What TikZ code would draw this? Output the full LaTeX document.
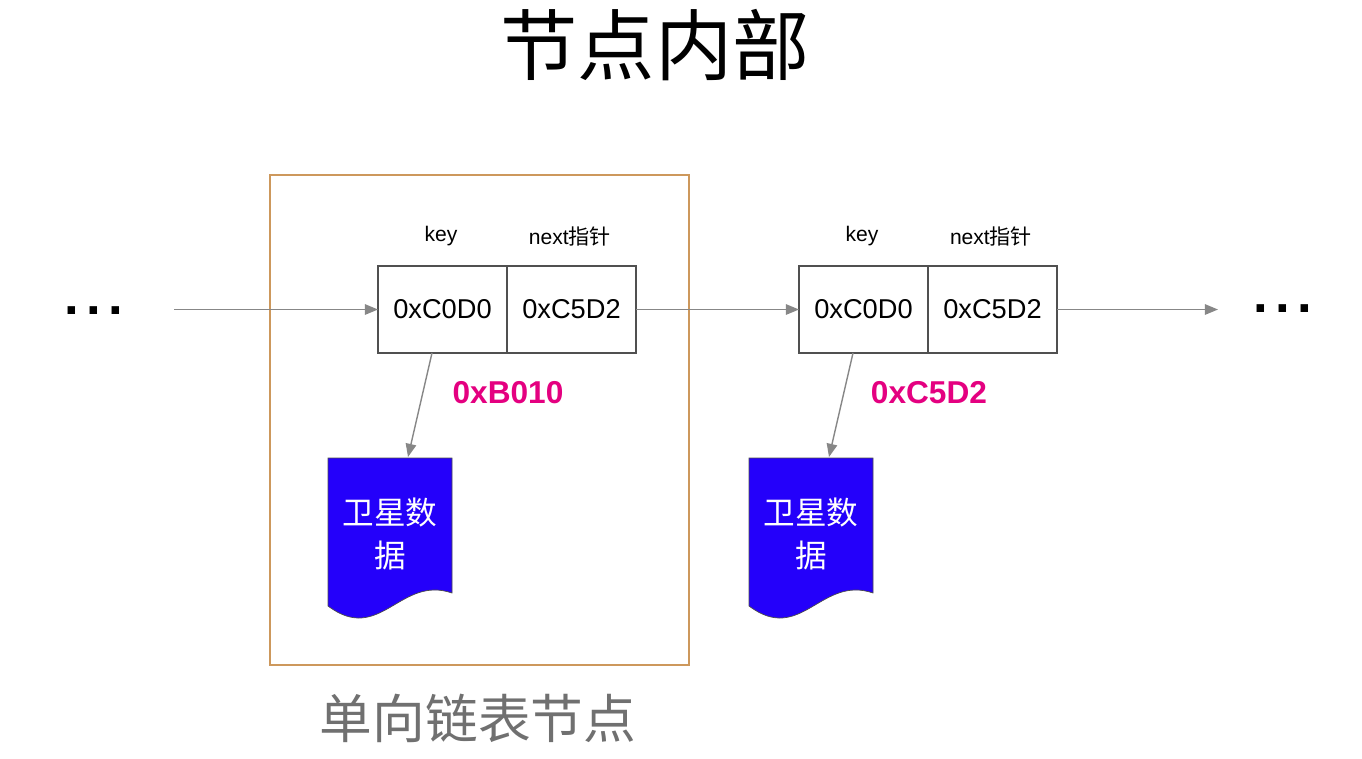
\documentclass[tikz,border=0pt]{standalone}
\usepackage{fontspec}
\setmainfont{Liberation Sans}
\newfontfamily\cjk{Noto Sans CJK SC}
\usetikzlibrary{positioning, arrows.meta, math}
\definecolor{framebrown}{RGB}{205,152,92}
\definecolor{addrpink}{RGB}{228,0,128}
\definecolor{datablue}{RGB}{36,0,250}
\definecolor{ptrgrey}{RGB}{135,135,135}
\definecolor{cellgrey}{RGB}{80,80,80}
\definecolor{labelgrey}{RGB}{112,112,112}

\tikzset{
cell/.style={draw=cellgrey, line width=0.85pt, outer sep=0pt, minimum width=2.58cm, minimum height=1.74cm, font=\fontsize{15.5}{18}\selectfont},
head/.style={font=\fontsize{12}{14}\selectfont},
addr/.style={text=addrpink, font=\bfseries\fontsize{18}{21}\selectfont},
datatext/.style={text=white, align=center, font=\cjk\fontsize{18}{25}\selectfont},
ptr/.style={draw=ptrgrey, line width=0.8pt, -{Triangle[length=7.5pt, width=6pt]}},
dots/.style={font=\bfseries\fontsize{30}{30}\selectfont}
}

\begin{document}
\begin{tikzpicture}[x=0.02cm, y=-0.02cm]
\tikzmath{
\dx=421;
}
\useasboundingbox (0,0) rectangle (1362,758);

\node[font=\cjk\fontsize{44}{50}\selectfont] (title) at (655,45) {节点内部};

%%%%%%%%%%   node frame
\draw[framebrown, line width=1.2pt] (270,175) rectangle (689,665);
\node[text=labelgrey, font=\cjk\fontsize{30}{34}\selectfont] (frametitle) at (478,718) {单向链表节点};

\foreach \i/\addr in {1/0xB010, 2/0xC5D2}{
\begin{scope}[shift={({(\i-1)*\dx},0)}]
\node[cell] (key\i) at (442.5,309.5) {0xC0D0};
\node[cell, right=0pt of key\i] (next\i) {0xC5D2};
\node[head] (khead\i) at (441,236) {key};
\node[head] (nhead\i) at (570,236) {next{\cjk 指针}};
\node[addr] (addr\i) at (508,393) {\addr};

% data block
\filldraw[fill=datablue, draw=black!70, line width=0.4pt] (328,458) -- (452,458) -- (452,593)
  .. controls (400,575) and (380,645) .. (328,606) -- cycle;
\node[datatext] (data\i) at (390,534) {卫星数\\据};
\coordinate (dtop\i) at (408,457);
\draw[ptr] ([xshift=-0.21cm]key\i.south) -- (dtop\i);
\end{scope}
}

%%%%%%%%%%   list links
\node[dots] (ldots) at (94,311) {.\hspace{4.2pt}.\hspace{4.2pt}.};
\node[dots] (rdots) at (1283,309) {.\hspace{4.2pt}.\hspace{4.2pt}.};
\coordinate (feed) at (174,309.5);
\coordinate (out) at (1218,309.5);
\draw[ptr] (feed) -- (key1);
\draw[ptr] (next1) -- (key2);
\draw[ptr] (next2) -- (out);

\end{tikzpicture}
\end{document}
